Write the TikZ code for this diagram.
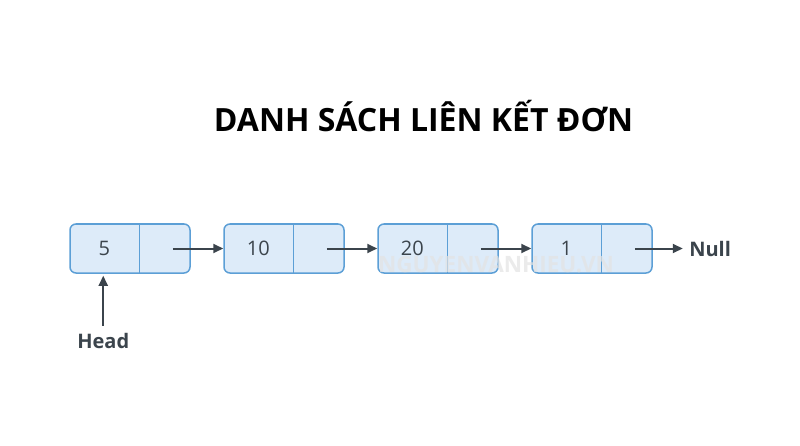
\documentclass[tikz,border=0pt]{standalone}
\usepackage{fontspec}
\setmainfont{Open Sans}
\usetikzlibrary{positioning, arrows.meta, calc}
\definecolor{boxfill}{HTML}{DDEBF9}
\definecolor{boxline}{HTML}{5C9FD6}
\definecolor{ink}{HTML}{3B444C}

\begin{document}
\begin{tikzpicture}[x=1pt, y=1pt,
		listnode/.style={draw=boxline, fill=boxfill, line width=1.5pt, rounded corners=6pt,
			minimum width=120pt, minimum height=49pt, inner sep=0pt},
		val/.style={text=ink, font=\fontsize{20}{22}\selectfont},
		link/.style={draw=ink, line width=2pt, -{Triangle[length=10pt, width=9pt]}},
		tagtext/.style={text=ink, font=\fontsize{20}{23}\selectfont\bfseries}]
		\fill[white] (0,0) rectangle (800,445);
		\useasboundingbox (0,0) rectangle (800,445);
		
		\node[font=\fontsize{32}{36}\selectfont\bfseries, anchor=base] (title) at (423.5,313) {DANH SÁCH LIÊN KẾT ĐƠN};
		
		% the four list nodes
		\node[listnode] (n1) at (130,196.5) {};
		\node[listnode, right=32.5pt of n1] (n2) {};
		\node[listnode, right=32.5pt of n2] (n3) {};
		\node[listnode, right=32.5pt of n3] (n4) {};
		
		\draw[boxline, line width=1.5pt] ([xshift=70pt]n1.north west) -- ([xshift=70pt]n1.south west);
		\draw[boxline, line width=1.5pt] ([xshift=70pt]n2.north west) -- ([xshift=70pt]n2.south west);
		\draw[boxline, line width=1.5pt] ([xshift=70pt]n3.north west) -- ([xshift=70pt]n3.south west);
		\draw[boxline, line width=1.5pt] ([xshift=70pt]n4.north west) -- ([xshift=70pt]n4.south west);
		
		\node[val] (v1) at ([xshift=35pt]n1.west) {5};
		\node[val] (v2) at ([xshift=35pt]n2.west) {10};
		\node[val] (v3) at ([xshift=35pt]n3.west) {20};
		\node[val] (v4) at ([xshift=35pt]n4.west) {1};
		
		\node[font=\fontsize{22.5}{25}\selectfont\bfseries, text=white!78!gray, opacity=0.7] (mark) at (496,180) {NGUYENVANHIEU.VN};
		
		% links
		\draw[link] ([xshift=-18pt]n1.east) -- (n2.west);
		\draw[link] ([xshift=-18pt]n2.east) -- (n3.west);
		\draw[link] ([xshift=-18pt]n3.east) -- (n4.west);
		
		\node[tagtext, right=33pt of n4.east] (null) {Null};
		\draw[link, shorten >=3pt] ([xshift=-18pt]n4.east) -- (null.west);
		
		\node[tagtext, below=56pt of n1.south west, xshift=34pt] (head) {Head};
		\draw[link, shorten <=4pt, shorten >=2pt] (head.north) -- (head.north |- n1.south);
	\end{tikzpicture}
\end{document}
